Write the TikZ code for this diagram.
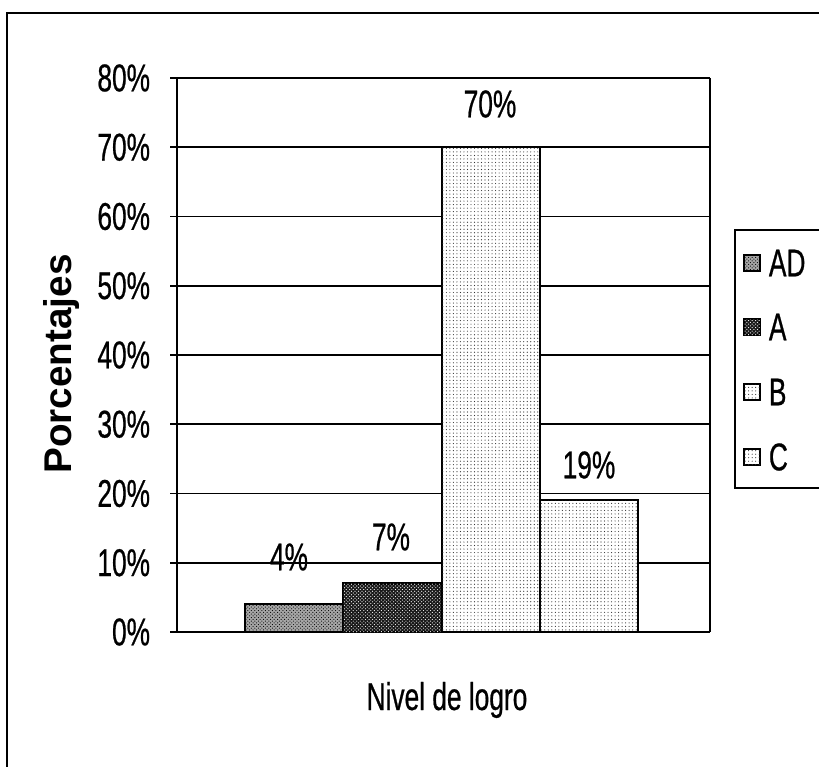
\documentclass[tikz,border=0pt]{standalone}
\usepackage{fontspec}
\setmainfont{Liberation Sans}
\newfontfamily\narrowsf[FakeStretch=0.68, FakeBold=0.6]{Liberation Sans}
\usetikzlibrary{patterns}

\begin{document}
\begin{tikzpicture}[x=0.03cm, y=-0.03cm, line width=1.6pt,
    lbl/.style={font=\narrowsf\fontsize{33}{38}\selectfont, inner sep=0pt},
    bar/.style={draw=black, line width=1.8pt}]
  \useasboundingbox (0,0) rectangle (819,767);
  % outer frame
  \draw (7,767) -- (7,13) -- (819,13);
  % grid lines and tick labels
  \foreach \v in {0,10,...,80} {
    \draw (170,{632-6.925*\v}) -- (710,{632-6.925*\v});
    \node [lbl, anchor=east] (tick\v) at (151,{632-6.925*\v}) {\v\%};
  }
  \draw (177,78) -- (177,632);
  \draw (710,78) -- (710,632);
  % bars
  \draw [bar, fill=black!35, postaction={pattern=crosshatch dots}] (245,632) rectangle (343,{632-6.925*4});
  \draw [bar, fill=black!90, postaction={pattern=crosshatch dots, pattern color=white}] (343,632) rectangle (442,{632-6.925*7});
  \draw [bar, fill=white, postaction={pattern=dots, pattern color=black!80}] (442,632) rectangle (540,{632-6.925*70});
  \draw [bar, fill=white, postaction={pattern=dots, pattern color=black!80}] (540,632) rectangle (638,{632-6.925*19});
  % values
  \node [lbl] (valAD) at (289,557) {4\%};
  \node [lbl] (valA) at (391,537) {7\%};
  \node [lbl] (valB) at (490,104) {70\%};
  \node [lbl] (valC) at (589,465) {19\%};
  % axis titles
  \node [font=\bfseries\fontsize{33}{38}\selectfont, rotate=90, inner sep=0pt] (ytitle) at (62,364) {Porcentajes};
  \node [lbl] (xtitle) at (447,700) {Nivel de logro};
  % legend
  \draw (819,230) -- (735,230) -- (735,488) -- (819,488);
  \draw [bar, fill=black!35, postaction={pattern=crosshatch dots}] (744,255) rectangle (760,271);
  \node [lbl, anchor=west] (legAD) at (768,263) {AD};
  \draw [bar, fill=black!90, postaction={pattern=crosshatch dots, pattern color=white}] (744,319) rectangle (760,335);
  \node [lbl, anchor=west] (legA) at (768,327) {A};
  \draw [bar, fill=white, postaction={pattern=dots, pattern color=black!80}] (744,384) rectangle (760,400);
  \node [lbl, anchor=west] (legB) at (768,392) {B};
  \draw [bar, fill=white, postaction={pattern=dots, pattern color=black!80}] (744,449) rectangle (760,465);
  \node [lbl, anchor=west] (legC) at (768,457) {C};
\end{tikzpicture}
\end{document}
